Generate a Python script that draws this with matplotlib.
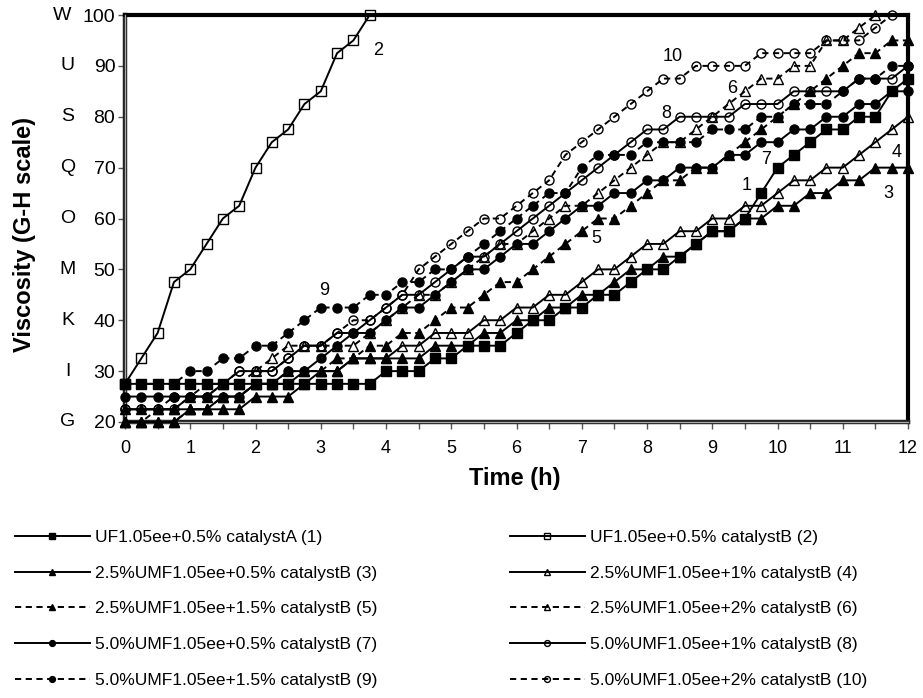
import numpy as np
import matplotlib.pyplot as plt

plt.rcParams['font.family'] = ['Liberation Sans', 'DejaVu Sans']

# sampling every 15 min
time_h = np.arange(49) * 0.25

uf_cat_a = [27.5, 27.5, 27.5, 27.5, 27.5, 27.5, 27.5, 27.5, 27.5, 27.5, 27.5, 27.5, 27.5, 27.5, 27.5, 27.5,
            30, 30, 30, 32.5, 32.5, 35, 35, 35, 37.5, 40, 40, 42.5, 42.5, 45, 45, 47.5, 50, 50,
            52.5, 55, 57.5, 57.5, 60, 65, 70, 72.5, 75, 77.5, 77.5, 80, 80, 85, 87.5]
uf_cat_b = [27.5, 32.5, 37.5, 47.5, 50, 55, 60, 62.5, 70, 75, 77.5, 82.5, 85, 92.5, 95, 100]
umf25_b05 = [22.5, 22.5, 22.5, 22.5, 22.5, 22.5, 22.5, 22.5, 25, 25, 25, 27.5, 30, 30, 32.5, 32.5,
             32.5, 32.5, 32.5, 35, 35, 35, 37.5, 37.5, 40, 40, 42.5, 42.5, 45, 45, 47.5, 50, 50,
             52.5, 52.5, 55, 57.5, 57.5, 60, 60, 62.5, 62.5, 65, 65, 67.5, 67.5, 70, 70, 70]
umf25_b1 = [20, 20, 20, 20, 22.5, 22.5, 25, 25, 27.5, 27.5, 27.5, 30, 30, 30, 32.5, 32.5,
            32.5, 35, 35, 37.5, 37.5, 37.5, 40, 40, 42.5, 42.5, 45, 45, 47.5, 50, 50, 52.5, 55,
            55, 57.5, 57.5, 60, 60, 62.5, 62.5, 65, 67.5, 67.5, 70, 70, 72.5, 75, 77.5, 80]
umf25_b15 = [20, 20, 20, 20, 22.5, 22.5, 25, 25, 27.5, 27.5, 30, 30, 30, 32.5, 32.5, 35,
             35, 37.5, 37.5, 40, 42.5, 42.5, 45, 47.5, 47.5, 50, 52.5, 55, 57.5, 60, 60, 62.5, 65,
             67.5, 67.5, 70, 70, 72.5, 75, 77.5, 80, 82.5, 85, 87.5, 90, 92.5, 92.5, 95, 95]
umf25_b2 = [20, 20, 22.5, 22.5, 25, 25, 27.5, 27.5, 30, 32.5, 35, 35, 35, 35, 35, 37.5,
            40, 42.5, 45, 45, 47.5, 50, 52.5, 55, 55, 57.5, 60, 62.5, 62.5, 65, 67.5, 70, 72.5,
            75, 75, 77.5, 80, 82.5, 85, 87.5, 87.5, 90, 90, 95, 95, 97.5, 100]
umf50_b05 = [25, 25, 25, 25, 25, 25, 25, 25, 27.5, 27.5, 30, 30, 32.5, 35, 37.5, 37.5,
             40, 42.5, 42.5, 45, 47.5, 50, 50, 52.5, 55, 55, 57.5, 60, 62.5, 62.5, 65, 65, 67.5,
             67.5, 70, 70, 70, 72.5, 72.5, 75, 75, 77.5, 77.5, 80, 80, 82.5, 82.5, 85, 85]
umf50_b1 = [22.5, 22.5, 22.5, 22.5, 25, 25, 27.5, 30, 30, 30, 32.5, 35, 35, 37.5, 37.5, 40,
            42.5, 45, 45, 47.5, 50, 52.5, 52.5, 55, 57.5, 60, 62.5, 65, 67.5, 70, 72.5, 75, 77.5,
            77.5, 80, 80, 80, 80, 82.5, 82.5, 82.5, 85, 85, 85, 85, 87.5, 87.5, 87.5, 90]
umf50_b15 = [27.5, 27.5, 27.5, 27.5, 30, 30, 32.5, 32.5, 35, 35, 37.5, 40, 42.5, 42.5, 42.5, 45,
             45, 47.5, 47.5, 50, 50, 52.5, 55, 57.5, 60, 62.5, 65, 65, 70, 72.5, 72.5, 72.5, 75,
             75, 75, 75, 77.5, 77.5, 77.5, 80, 80, 82.5, 82.5, 82.5, 85, 87.5, 87.5, 90, 90]
umf50_b2 = [22.5, 22.5, 22.5, 25, 25, 27.5, 27.5, 30, 30, 30, 32.5, 35, 35, 37.5, 40, 40,
            42.5, 45, 50, 52.5, 55, 57.5, 60, 60, 62.5, 65, 67.5, 72.5, 75, 77.5, 80, 82.5, 85,
            87.5, 87.5, 90, 90, 90, 90, 92.5, 92.5, 92.5, 92.5, 95, 95, 95, 97.5, 100]

legend_labels = ["UF1.05ee+0.5% catalystA (1)", "UF1.05ee+0.5% catalystB (2)",
                 "2.5%UMF1.05ee+0.5% catalystB (3)", "2.5%UMF1.05ee+1% catalystB (4)",
                 "2.5%UMF1.05ee+1.5% catalystB (5)", "2.5%UMF1.05ee+2% catalystB (6)",
                 "5.0%UMF1.05ee+0.5% catalystB (7)", "5.0%UMF1.05ee+1% catalystB (8)",
                 "5.0%UMF1.05ee+1.5% catalystB (9)", "5.0%UMF1.05ee+2% catalystB (10)"]
series = [uf_cat_a, uf_cat_b, umf25_b05, umf25_b1, umf25_b15, umf25_b2,
          umf50_b05, umf50_b1, umf50_b15, umf50_b2]

y_ticks = [20, 30, 40, 50, 60, 70, 80, 90, 100]
y_letters = ["G", "I", "K", "M", "O", "Q", "S", "U", "W"]
x_ticks = [0, 1, 2, 3, 4, 5, 6, 7, 8, 9, 10, 11, 12]

# in-chart curve numbers: (text, t, viscosity)
curve_tags = [("1", 9.53, 66.5), ("2", 3.88, 93), ("3", 11.7, 65), ("4", 11.83, 73),
              ("5", 7.23, 56), ("6", 9.3, 85.6), ("7", 9.83, 71.5), ("8", 8.3, 80.7),
              ("9", 3.05, 45.9), ("10", 8.4, 91.8)]

markers = ['s', 's', '^', '^', '^', '^', 'o', 'o', 'o', 'o']
filled = [True, False, True, False, True, False, True, False, True, False]
dashed = [False, False, False, False, True, True, False, False, True, True]

fig = plt.figure(figsize=(9.23, 6.98), dpi=100)
ax = fig.add_axes([125 / 923, 1 - 422 / 698, 783 / 923, 407 / 698])

handles = []
for vals, m, f, d, lab in zip(series, markers, filled, dashed, legend_labels):
    ls = (0, (3.2, 2.3)) if d else '-'
    ms = 7 if m != 'o' else 6.5
    h, = ax.plot(time_h[:len(vals)], vals, color='black', lw=1.4, ls=ls, marker=m, ms=ms,
                 mfc='black' if f else 'none', mec='black', mew=1.0, label=lab,
                 zorder=3, clip_on=False)
    handles.append(h)

ax.set_xlim(0, 12)
ax.set_ylim(20, 100)
ax.set_xticks(np.arange(0, 12.01, 0.5))
ax.set_xticklabels([str(x_ticks[i // 2]) if i % 2 == 0 else '' for i in range(25)], fontsize=13)
ax.set_yticks(y_ticks)
ax.set_yticklabels([str(v) for v in y_ticks], fontsize=14)
ax.tick_params(axis='both', direction='out', length=5, width=1, color='#555555')
ax.tick_params(axis='y', pad=2)
ax.tick_params(axis='x', pad=8)

for s in ['top', 'right']:
    ax.spines[s].set_linewidth(3)
for s in ['left', 'bottom']:
    ax.spines[s].set_linewidth(3.2)
    ax.spines[s].set_color('#222222')
# lighter core of the double axis lines
ax.plot([0, 0], [0, 1], transform=ax.transAxes, color='#a8a8a8', lw=0.9, clip_on=False, zorder=2.6)
ax.plot([0, 1], [0, 0], transform=ax.transAxes, color='#a8a8a8', lw=0.9, clip_on=False, zorder=2.6)

for v, letter in zip(y_ticks, y_letters):
    if letter == 'W':
        ax.text(-0.068, v, letter, transform=ax.get_yaxis_transform(), ha='right', va='center',
                fontsize=14)
    else:
        ax.text(-0.0735, v, letter, transform=ax.get_yaxis_transform(), ha='center', va='center',
                fontsize=14)

for txt, tx, ty in curve_tags:
    ax.text(tx, ty, txt, ha='center', va='center', fontsize=13)

fig.text(515 / 923, 1 - 478 / 698, "Time (h)", ha='center', va='center', fontsize=17,
         fontweight='bold')
fig.text(25 / 923, 1 - 235 / 698, "Viscosity (G-H scale)", ha='center', va='center', fontsize=17,
         fontweight='bold', rotation=90)

leg_kw = dict(loc='upper left', frameon=False, fontsize=12.5, handlelength=4.3, handletextpad=0.3,
              labelspacing=1.18, borderpad=0, borderaxespad=0, markerscale=0.65)
fig.legend(handles=handles[0::2], bbox_to_anchor=(15 / 923, 1 - 530 / 698), **leg_kw)
fig.legend(handles=handles[1::2], bbox_to_anchor=(510 / 923, 1 - 530 / 698), **leg_kw)

fig.savefig("out.png", dpi=100)
